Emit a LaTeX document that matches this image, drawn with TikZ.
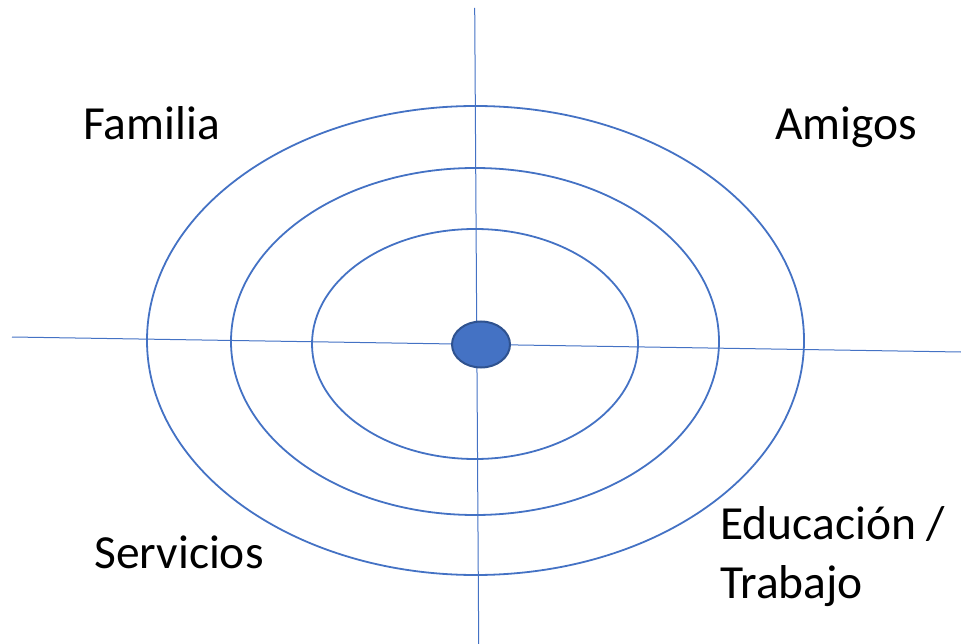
\documentclass[tikz,border=0pt]{standalone}
\usepackage{fontspec}
\setmainfont{Carlito}
\usetikzlibrary{shapes.geometric}
\definecolor{lineblue}{HTML}{4472C4}
\definecolor{dotedge}{HTML}{2F528F}
\begin{document}
\begin{tikzpicture}[x=1pt,y=-1pt,
  axis/.style={draw=lineblue,line width=1pt},
  ring/.style={draw=lineblue,line width=1.8pt},
  lbl/.style={anchor=base west,inner sep=0pt,font=\fontsize{47.5}{59}\selectfont}]
\useasboundingbox (0,0) rectangle (961,644);
\coordinate (L) at (12,337);
\coordinate (R) at (961,352);
\coordinate (T) at (474.7,8);
\coordinate (B) at (478.7,644);
\draw[axis] (L) -- (R);
\draw[axis] (T) -- (B);
\draw[ring] (475.5,340.5) ellipse [x radius=328.5, y radius=234.5];
\draw[ring] (475,341.5) ellipse [x radius=244, y radius=173.5];
\draw[ring] (475,344) ellipse [x radius=163, y radius=115];
\node[ellipse,draw=dotedge,line width=2pt,fill=lineblue,minimum width=58pt,minimum height=46pt,inner sep=0pt] (dot) at (481,344.5) {};
\node[lbl] (fam) at (83,140) {Familia};
\node[lbl] (ami) at (775,140) {Amigos};
\node[lbl] (ser) at (94,568) {Servicios};
\node[lbl] (edu) at (720,539) {Educación /};
\node[lbl] (tra) at (720,598) {Trabajo};
\end{tikzpicture}
\end{document}
